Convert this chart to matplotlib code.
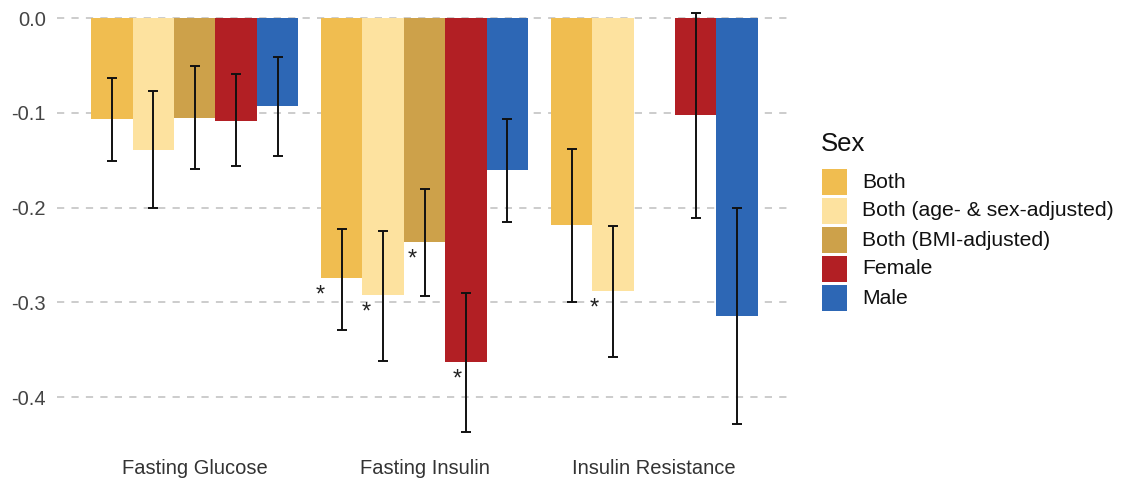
import numpy as np
import matplotlib.pyplot as plt
from matplotlib.patches import Rectangle

outcomes = ['Fasting Glucose', 'Fasting Insulin', 'Insulin Resistance']
groups = ['Both', 'Both (age- & sex-adjusted)', 'Both (BMI-adjusted)', 'Female', 'Male']
colours = ['#F0BD50', '#FDE29F', '#CDA14A', '#B21F24', '#2D67B5']

# estimates per group, one entry per outcome (None = not estimated)
est = {
    'Both':                       [-0.107, -0.274, -0.218],
    'Both (age- & sex-adjusted)': [-0.139, -0.292, -0.288],
    'Both (BMI-adjusted)':        [-0.105, -0.236, None],
    'Female':                     [-0.109, -0.363, -0.102],
    'Male':                       [-0.093, -0.160, -0.314],
}
lower = {
    'Both':                       [-0.151, -0.329, -0.300],
    'Both (age- & sex-adjusted)': [-0.200, -0.362, -0.358],
    'Both (BMI-adjusted)':        [-0.159, -0.293, None],
    'Female':                     [-0.156, -0.437, -0.211],
    'Male':                       [-0.146, -0.215, -0.428],
}
upper = {
    'Both':                       [-0.063, -0.223, -0.138],
    'Both (age- & sex-adjusted)': [-0.077, -0.225, -0.219],
    'Both (BMI-adjusted)':        [-0.051, -0.180, None],
    'Female':                     [-0.059, -0.290, 0.005],
    'Male':                       [-0.041, -0.107, -0.200],
}
# significant results: (group, outcome index)
signif = [('Both', 1), ('Both (age- & sex-adjusted)', 1), ('Both (BMI-adjusted)', 1),
          ('Female', 1), ('Both (age- & sex-adjusted)', 2)]
star_shift = [-0.005, 0.015, 0.035, 0.052, 0.009]

plt.rcParams['font.family'] = ['Liberation Sans', 'DejaVu Sans']

W, H = 1131, 483
fig = plt.figure(figsize=(W / 100, H / 100), dpi=100)
ax = fig.add_axes([57 / W, 1 - 453 / H, (792 - 57) / W, 453 / H])

x = np.arange(len(outcomes))
w = 0.9 / len(groups)
pos = {}
for i, g in enumerate(groups):
    off = -0.45 + w / 2 + i * w
    for j in range(len(outcomes)):
        if est[g][j] is None:
            continue
        xc = x[j] + off
        pos[(g, j)] = xc
        ax.bar(xc, est[g][j], width=w, color=colours[i], zorder=2)
        ax.errorbar(xc, est[g][j],
                    yerr=[[est[g][j] - lower[g][j]], [upper[g][j] - est[g][j]]],
                    fmt='none', ecolor='#111111', elinewidth=1.4, capsize=3.5,
                    capthick=1.4, zorder=3)

for (g, j), s in zip(signif, star_shift):
    ax.text(pos[(g, j)] - w / 2 + s, est[g][j] - 0.019, '*', ha='center', va='center',
            fontsize=17, color='#222222', zorder=4)

for yv in [0.0, -0.1, -0.2, -0.3, -0.4]:
    ax.axhline(yv, color='#C8C8C8', lw=1.3, ls=(0, (4, 4)), zorder=1)

ax.set_xlim(-0.6, 2.6)
ax.set_ylim(-0.459, 0.019)
ax.set_xticks(x)
ax.set_xticklabels(outcomes, fontsize=14.5, color='#333333')
ax.set_yticks([0.0, -0.1, -0.2, -0.3, -0.4])
ax.set_yticklabels(['0.0', '-0.1', '-0.2', '-0.3', '-0.4'], fontsize=14.5, color='#444444')
ax.tick_params(length=0, pad=8)
ax.tick_params(axis='x', pad=4)
for sp in ax.spines.values():
    sp.set_visible(False)

# legend drawn by hand: title, colour keys and labels
fig.text(821 / W, 1 - 144 / H, 'Sex', fontsize=18.5, va='center', color='#111111')
for i, (c, g) in enumerate(zip(colours, groups)):
    top = 169 + 29 * i
    fig.add_artist(Rectangle((822 / W, 1 - (top + 26) / H), 25 / W, 26 / H,
                             transform=fig.transFigure, facecolor=c, edgecolor='none'))
    fig.text(862 / W, 1 - (top + 13) / H, g, fontsize=15.2, va='center', color='#111111')

fig.savefig('out.png', dpi=100)
